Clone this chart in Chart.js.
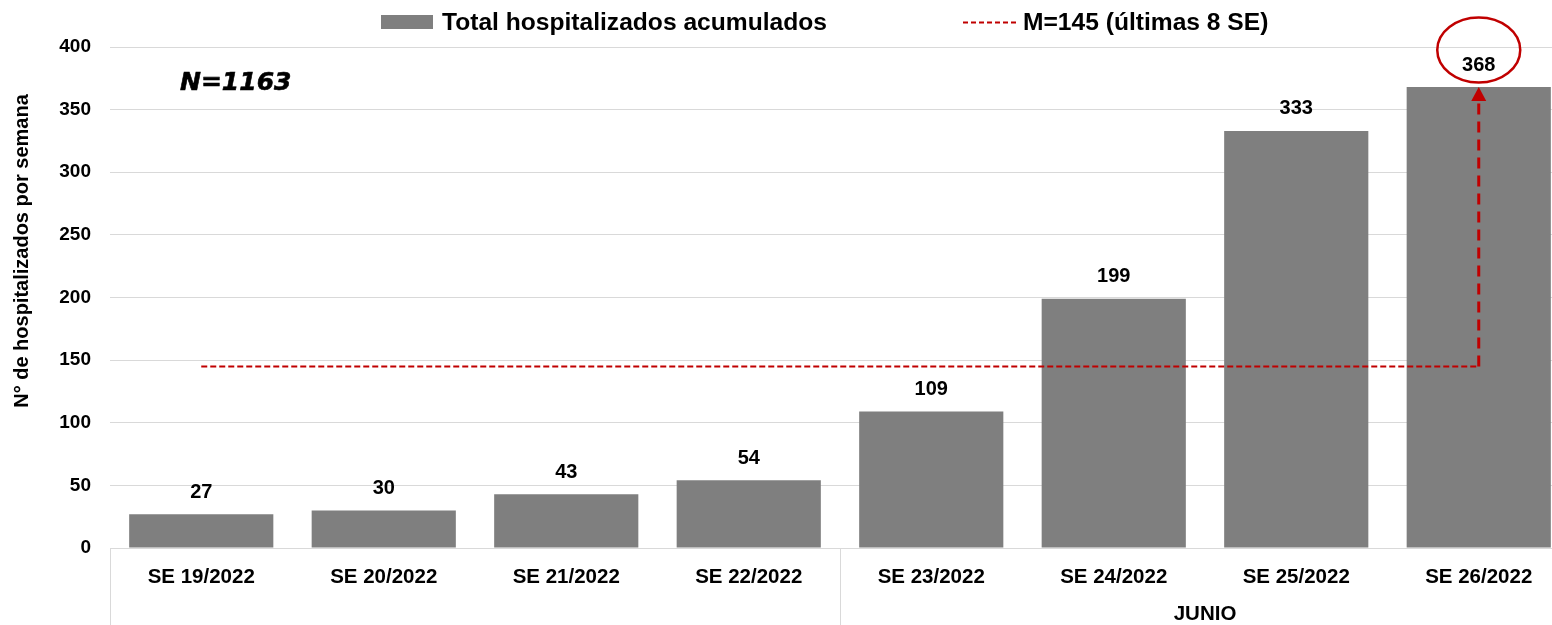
<!DOCTYPE html>
<html lang="es">
<head>
<meta charset="utf-8">
<title>Hospitalizados por semana epidemiológica</title>
<script src="https://cdn.jsdelivr.net/npm/chart.js@4.4.1/dist/chart.umd.min.js"></script>
<style>
  html, body { margin: 0; padding: 0; background: #ffffff; overflow: hidden; }
  #wrap { width: 1552px; height: 625px; overflow: hidden; position: relative; }
  canvas { display: block; }
</style>
</head>
<body>
<div id="wrap"><canvas id="chart" width="1570" height="625"></canvas></div>
<script>
// Semanas epidemiológicas (SE)
const categories = ['SE 19/2022', 'SE 20/2022', 'SE 21/2022', 'SE 22/2022',
                    'SE 23/2022', 'SE 24/2022', 'SE 25/2022', 'SE 26/2022'];
// Hospitalizados por semana
const hospitalizados = [27, 30, 43, 54, 109, 199, 333, 368];
// Media de las últimas 8 SE
const mediaUltimas8 = [145, 145, 145, 145, 145, 145, 145, 145];
// Agrupación de semanas por mes (segunda fila del eje X)
const groupLabels = ['', 'JUNIO'];
const groupSizes = [4, 4];
// Ejes
const yTicks = [0, 50, 100, 150, 200, 250, 300, 350, 400];
const totalN = 'N=1163';

const FONT = "'Liberation Sans', Arial, Helvetica, sans-serif";
const RED = '#c00000';
const BAR = '#7f7f7f';
const GRID = '#d9d9d9';

const decorations = {
  id: 'decorations',
  afterDatasetsDraw(chart) {
    const ctx = chart.ctx;
    const x = chart.scales.x;
    const y = chart.scales.y;
    const area = chart.chartArea;
    const bars = chart.getDatasetMeta(0).data;
    const catW = (area.right - area.left) / categories.length;

    ctx.save();

    // Etiquetas de valor sobre cada barra
    ctx.font = 'bold 20px ' + FONT;
    ctx.fillStyle = '#000';
    ctx.textAlign = 'center';
    ctx.textBaseline = 'middle';
    bars.forEach((b, i) => {
      ctx.fillText(String(hospitalizados[i]), b.x, b.y - 22);
    });

    // Flecha desde la media hasta la última semana
    const last = hospitalizados.length - 1;
    const ax = x.getPixelForValue(last);
    const yMean = y.getPixelForValue(mediaUltimas8[last]);
    const yTop = y.getPixelForValue(hospitalizados[last]);
    ctx.strokeStyle = RED;
    ctx.lineWidth = 3;
    ctx.setLineDash([11, 7]);
    ctx.beginPath();
    ctx.moveTo(ax, yMean);
    ctx.lineTo(ax, yTop + 13);
    ctx.stroke();
    ctx.setLineDash([]);
    ctx.fillStyle = RED;
    ctx.beginPath();
    ctx.moveTo(ax, yTop);
    ctx.lineTo(ax - 7.5, yTop + 14);
    ctx.lineTo(ax + 7.5, yTop + 14);
    ctx.closePath();
    ctx.fill();

    // Elipse que resalta el último valor
    ctx.lineWidth = 2.5;
    ctx.beginPath();
    ctx.ellipse(ax, yTop - 37, 41.5, 32.5, 0, 0, Math.PI * 2);
    ctx.stroke();

    // Total de casos
    ctx.fillStyle = '#000';
    ctx.strokeStyle = '#000';
    ctx.lineWidth = 0.6;
    ctx.font = "italic bold 25px 'DejaVu Sans', Verdana, sans-serif";
    ctx.textAlign = 'left';
    ctx.textBaseline = 'alphabetic';
    ctx.fillText(totalN, 180, 90);
    ctx.strokeText(totalN, 180, 90);

    // Título del eje Y
    ctx.font = 'bold 20px ' + FONT;
    ctx.save();
    ctx.translate(28, 251);
    ctx.rotate(-Math.PI / 2);
    ctx.textAlign = 'center';
    ctx.textBaseline = 'alphabetic';
    ctx.fillText('N° de hospitalizados por semana', 0, 0);
    ctx.restore();

    // Segunda fila del eje X: separadores y meses
    ctx.strokeStyle = GRID;
    ctx.lineWidth = 1;
    let start = 0;
    groupSizes.forEach((size, g) => {
      const left = Math.round(x.getPixelForValue(start) - catW / 2) + 0.5;
      ctx.beginPath();
      ctx.moveTo(left, area.bottom);
      ctx.lineTo(left, chart.height);
      ctx.stroke();
      if (groupLabels[g]) {
        const cx = (x.getPixelForValue(start) + x.getPixelForValue(start + size - 1)) / 2;
        ctx.font = 'bold 20.5px ' + FONT;
        ctx.fillStyle = '#000';
        ctx.textAlign = 'center';
        ctx.textBaseline = 'middle';
        ctx.fillText(groupLabels[g], cx, 614);
      }
      start += size;
    });

    // Leyenda
    ctx.fillStyle = BAR;
    ctx.fillRect(381, 15, 52, 14);
    ctx.fillStyle = '#000';
    ctx.font = 'bold 24.6px ' + FONT;
    ctx.textAlign = 'left';
    ctx.textBaseline = 'middle';
    ctx.fillText(chart.data.datasets[0].label, 442, 23);
    ctx.strokeStyle = RED;
    ctx.lineWidth = 2;
    ctx.setLineDash([5, 3]);
    ctx.beginPath();
    ctx.moveTo(963, 22.5);
    ctx.lineTo(1019, 22.5);
    ctx.stroke();
    ctx.setLineDash([]);
    ctx.fillText(chart.data.datasets[1].label, 1023, 23);

    ctx.restore();
  }
};

Chart.defaults.font.family = FONT;
Chart.defaults.font.weight = 'bold';
Chart.defaults.color = '#000';

new Chart(document.getElementById('chart'), {
  type: 'bar',
  data: {
    labels: categories,
    datasets: [
      {
        type: 'bar',
        label: 'Total hospitalizados acumulados',
        data: hospitalizados,
        backgroundColor: BAR,
        borderWidth: 0,
        categoryPercentage: 1.0,
        barPercentage: 0.79,
        order: 2
      },
      {
        type: 'line',
        label: 'M=145 (últimas 8 SE)',
        data: mediaUltimas8,
        borderColor: RED,
        borderWidth: 2,
        borderDash: [6, 3],
        pointRadius: 0,
        fill: false,
        order: 1
      }
    ]
  },
  options: {
    responsive: false,
    animation: false,
    layout: { padding: { top: 47, right: 0, bottom: 0, left: 0 } },
    plugins: {
      legend: { display: false },
      tooltip: { enabled: false },
      title: { display: false }
    },
    scales: {
      x: {
        grid: { display: false, drawTicks: false },
        border: { display: false },
        ticks: { font: { size: 20.5, weight: 'bold' }, padding: 17, maxRotation: 0, autoSkip: false },
        afterFit(scale) { scale.height = 77; }
      },
      y: {
        min: yTicks[0],
        max: yTicks[yTicks.length - 1],
        grid: { color: GRID, lineWidth: 1, drawTicks: false },
        border: { display: false },
        ticks: {
          stepSize: yTicks[1] - yTicks[0],
          font: { size: 19, weight: 'bold' },
          padding: 19
        },
        afterFit(scale) { scale.width = 110; }
      }
    }
  },
  plugins: [decorations]
});
</script>
</body>
</html>
